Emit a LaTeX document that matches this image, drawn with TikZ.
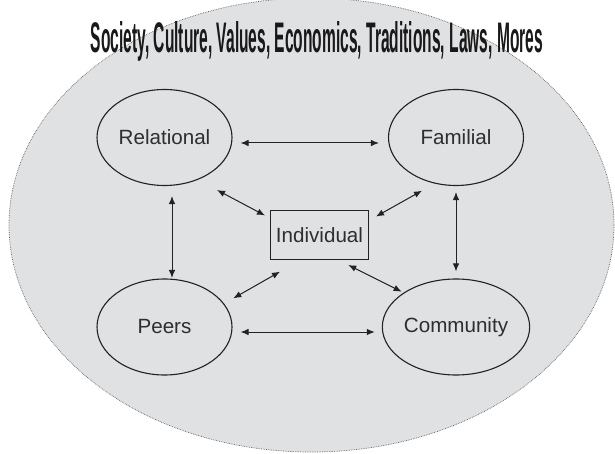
\documentclass[tikz,border=0pt]{standalone}
\usepackage{fontspec}
\setmainfont{Liberation Sans}
\usetikzlibrary{arrows.meta,shapes.geometric}
\definecolor{bgfill}{HTML}{E0E1E3}
\definecolor{inkc}{HTML}{222222}
\definecolor{txtc}{HTML}{2E2E2E}
\begin{document}
\begin{tikzpicture}[x=1pt,y=-1pt,
  oval/.style={ellipse,draw=inkc,line width=1.1pt,minimum width=135pt,minimum height=96pt,inner sep=0pt,text=txtc,font=\fontsize{20.6}{24}\selectfont},
  boxnode/.style={rectangle,draw=inkc,line width=1.1pt,minimum width=98pt,minimum height=49pt,inner sep=0pt,text=txtc,font=\fontsize{20.6}{24}\selectfont},
  link/.style={draw=inkc,line width=1pt,{Latex[length=8pt,width=6.5pt]}-{Latex[length=8pt,width=6.5pt]}}
]
\useasboundingbox (0,0) rectangle (615,454);
\fill[white] (0,0) rectangle (615,454);
\draw[fill=bgfill,draw=gray!75!black,line width=0.7pt,densely dotted] (311.5,225) ellipse [x radius=302.5pt,y radius=227pt];

\node[anchor=base,text=black!90] (title) at (317,53) {\resizebox{452pt}{31pt}{\bfseries Society, Culture, Values, Economics, Traditions, Laws, Mores}};

\node[oval] (rel) at (164.5,137.5) {Relational};
\node[oval] (fam) at (456,137.5) {Familial};
\node[oval] (peers) at (164.5,327) {Peers};
\node[oval] (comm) at (456,327) {Community};
\node[boxnode] (ind) at (319.5,235) {Individual};

\draw[link] ([shift={(8,5.5)}]rel.east) -- ([shift={(-9,5.5)}]fam.west);
\draw[link] ([shift={(8,5)}]peers.east) -- ([shift={(-7,5)}]comm.west);
\draw[link] ([shift={(7.5,10)}]rel.south) -- ([shift={(7.5,-0.5)}]peers.north);
\draw[link] ([shift={(0,6)}]fam.south) -- ([shift={(0,-7)}]comm.north);
\draw[link] ([shift={(52.5,52.5)}]rel.center) -- ([shift={(-54.5,-19.5)}]ind.center);
\draw[link] ([shift={(-34,53.2)}]fam.center) -- ([shift={(56.5,-18.5)}]ind.center);
\draw[link] ([shift={(68.8,-28.7)}]peers.center) -- ([shift={(-39.5,36.7)}]ind.center);
\draw[link] ([shift={(-54.3,-35.3)}]comm.center) -- ([shift={(28.8,30)}]ind.center);
\end{tikzpicture}
\end{document}
